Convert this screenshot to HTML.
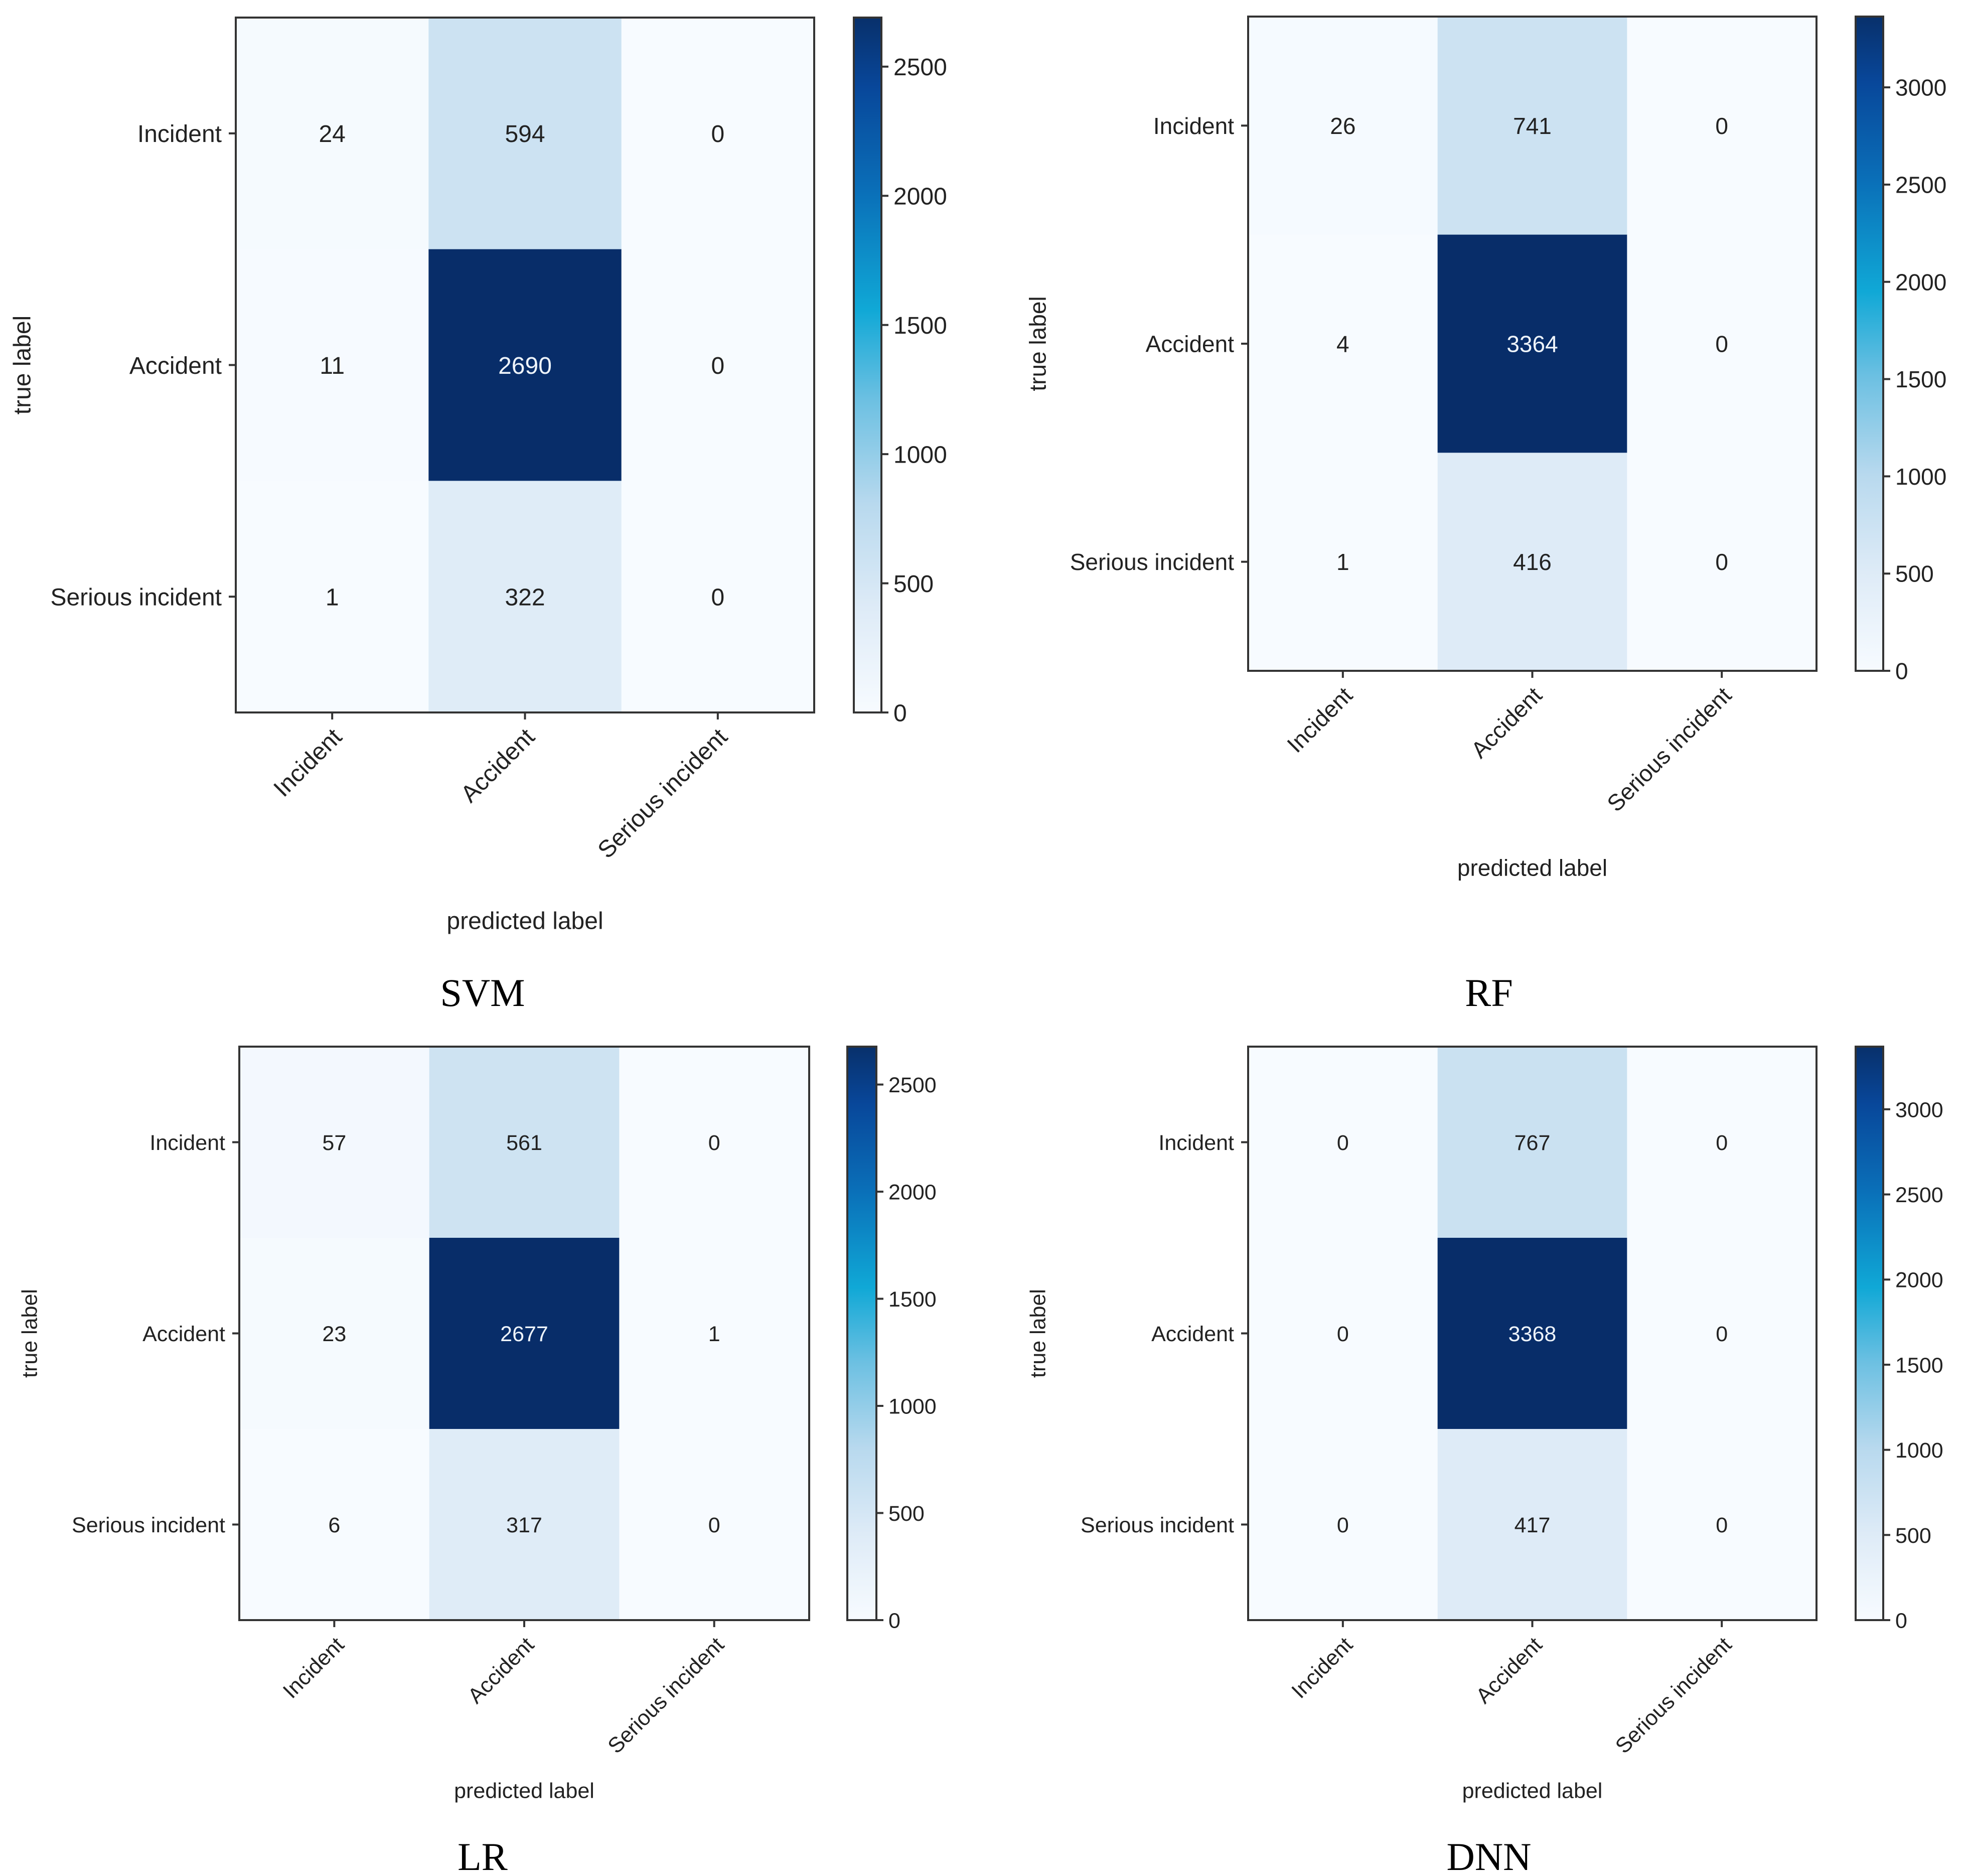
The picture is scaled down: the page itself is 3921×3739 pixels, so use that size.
<!DOCTYPE html>
<html><head><meta charset="utf-8">
<style>
html,body{margin:0;padding:0;background:#fff;}
svg{display:block;}
text{font-family:"Liberation Sans","DejaVu Sans",sans-serif;fill:#222;}
.title{font-family:"Liberation Serif",serif;fill:#000;}
</style></head>
<body>
<svg id="fig" width="3921" height="3739" viewBox="0 0 3921 3739" xmlns="http://www.w3.org/2000/svg">
<defs>
<linearGradient id="cbgrad" x1="0" y1="1" x2="0" y2="0">
<stop offset="0" stop-color="#f7fbff"/>
<stop offset="0.15" stop-color="#deebf7"/>
<stop offset="0.3" stop-color="#b8d9ee"/>
<stop offset="0.45" stop-color="#6cc0e2"/>
<stop offset="0.58" stop-color="#10a8d6"/>
<stop offset="0.75" stop-color="#0a6fb8"/>
<stop offset="0.9" stop-color="#08479a"/>
<stop offset="1" stop-color="#08306b"/>
</linearGradient>
</defs>
</svg>
<script>
const classes = ["Incident","Accident","Serious incident"];
const svmValues = [[24,594,0],[11,2690,0],[1,322,0]];
const rfValues = [[26,741,0],[4,3364,0],[1,416,0]];
const lrValues = [[57,561,0],[23,2677,1],[6,317,0]];
const dnnValues = [[0,767,0],[0,3368,0],[0,417,0]];
const svmTicks = [0,500,1000,1500,2000,2500];
const rfTicks = [0,500,1000,1500,2000,2500,3000];
const lrTicks = [0,500,1000,1500,2000,2500];
const dnnTicks = [0,500,1000,1500,2000,2500,3000];
const titles = ["SVM","RF","LR","DNN"];

const NS="http://www.w3.org/2000/svg";
const svg=document.getElementById('fig');
function mk(tag,attrs,parent){const e=document.createElementNS(NS,tag);for(const k in attrs)e.setAttribute(k,attrs[k]);(parent||svg).appendChild(e);return e;}
const blues=[[247,251,255],[222,235,247],[198,223,240],[158,202,225],[107,174,214],[66,146,198],[33,113,181],[8,81,156],[8,45,105]];
function cmap(t){t=Math.max(0,Math.min(1,t));const p=t*8;const i=Math.min(7,Math.floor(p));const f=p-i;const a=blues[i],b=blues[i+1];
return `rgb(${Math.round(a[0]+(b[0]-a[0])*f)},${Math.round(a[1]+(b[1]-a[1])*f)},${Math.round(a[2]+(b[2]-a[2])*f)})`;}

const panels=[
 {key:'svm',vals:svmValues,ticks:svmTicks,title:titles[0],ax:[470,35,1623,1420],cb:[1702,1757],fs:48,tl:43,pl:1834,tx:962,ty:2005},
 {key:'rf',vals:rfValues,ticks:rfTicks,title:titles[1],ax:[2488,33,3621,1337],cb:[3699,3754],fs:46,tl:2068,pl:1729,tx:2968,ty:2005},
 {key:'lr',vals:lrValues,ticks:lrTicks,title:titles[2],ax:[477,2086,1613,3229],cb:[1689,1747],fs:43,tl:58,pl:3568,tx:962,ty:3727},
 {key:'dnn',vals:dnnValues,ticks:dnnTicks,title:titles[3],ax:[2488,2086,3621,3229],cb:[3699,3754],fs:43,tl:2068,pl:3568,tx:2968,ty:3727}
];

panels.forEach(p=>{
 const g=mk('g',{});
 
 
 const [x0,y0,x1,y1]=p.ax;const cw=(x1-x0)/3,ch=(y1-y0)/3;
 let vmax=0;p.vals.forEach(r=>r.forEach(v=>{if(v>vmax)vmax=v;}));
 const xc=j=>x0+cw*(j+0.5), yc=i=>y0+ch*(i+0.5);
 p.vals.forEach((row,i)=>row.forEach((v,j)=>{
  const r=mk('rect',{x:x0+cw*j,y:y0+ch*i,width:cw+0.5,height:ch+0.5,fill:cmap(v/vmax)},g);
  
  
  const t=mk('text',{x:xc(j),y:yc(i)+p.fs*0.36,'text-anchor':'middle','font-size':p.fs},g);
  t.style.fill=v>vmax/2?'#eef4fb':'#222';
  t.textContent=v;
  
  
 }));
 const fr=mk('rect',{x:x0,y:y0,width:x1-x0,height:y1-y0,fill:'none',stroke:'#333','stroke-width':4},g);
 
 
 classes.forEach((c,i)=>{
  mk('line',{x1:x0-14,x2:x0,y1:yc(i),y2:yc(i),stroke:'#333','stroke-width':4},g);
  const t=mk('text',{x:x0-28,y:yc(i)+p.fs*0.36,'text-anchor':'end','font-size':p.fs},g);
  t.textContent=c;
  
  
  mk('line',{x1:xc(i),x2:xc(i),y1:y1,y2:y1+14,stroke:'#333','stroke-width':4},g);
  const tx=mk('text',{x:0,y:0,'text-anchor':'end','font-size':p.fs,transform:`translate(${xc(i)+22},${y1+52}) rotate(-45)`},g);
  tx.textContent=c;
  
  
 });
 const yl=mk('text',{x:0,y:0,'text-anchor':'middle','font-size':p.fs,transform:`translate(${p.tl+p.fs*0.36},${(y0+y1)/2}) rotate(-90)`},g);
 yl.textContent='true label';
 
 
 const xl=mk('text',{x:(x0+x1)/2,y:p.pl+p.fs*0.36,'text-anchor':'middle','font-size':p.fs},g);
 xl.textContent='predicted label';
 
 
 const [c0,c1]=p.cb;
 const cy=v=>y1-(v/vmax)*(y1-y0);
 const cb=mk('rect',{x:c0,y:y0,width:c1-c0,height:y1-y0,fill:'url(#cbgrad)',stroke:'#333','stroke-width':4},g);
 
 
 p.ticks.forEach(v=>{
  mk('line',{x1:c1,x2:c1+14,y1:cy(v),y2:cy(v),stroke:'#333','stroke-width':4},g);
  const t=mk('text',{x:c1+24,y:cy(v)+p.fs*0.36,'font-size':p.fs},g);
  t.textContent=v;
  
  
 });
 const tt=mk('text',{x:p.tx,y:p.ty,'text-anchor':'middle','font-size':78,class:'title'},g);
 tt.textContent=p.title;
 
 
});
</script>
</body></html>
